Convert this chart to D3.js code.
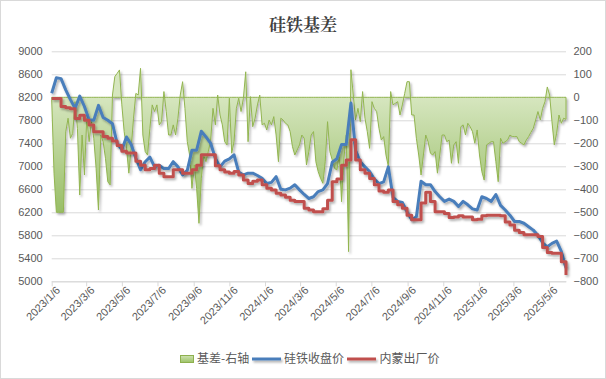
<!DOCTYPE html>
<html><head><meta charset="utf-8">
<script src="https://cdn.jsdelivr.net/npm/d3@7"></script>
<style>body{margin:0;background:#fff} svg{display:block}</style>
</head><body><svg id="c" width="606" height="379"></svg>
<script>
const chartTitle = "硅铁基差";
const startDate = "2023-01-06";
const endDate = "2025-06-04";
const basisStepDays = 4;
const priceStepDays = 8;
const seriesNames = ["基差-右轴", "硅铁收盘价", "内蒙出厂价"];
const xTickLabels = ["2023/1/6","2023/3/6","2023/5/6","2023/7/6","2023/9/6","2023/11/6","2024/1/6","2024/3/6","2024/5/6","2024/7/6","2024/9/6","2024/11/6","2025/1/6","2025/3/6","2025/5/6"];
const leftTicks = [5000,5400,5800,6200,6600,7000,7400,7800,8200,8600,9000];
const rightTicks = [-800,-700,-600,-500,-400,-300,-200,-100,0,100,200];

// 基差 (right axis), one reading every 4 days
const basisValues = [
-10,-330,-500,-500,-500,-500,-150,-91,-178,-157,
-19,-135,-425,-164,-338,-91,-193,-106,-178,-309,
-490,-164,-193,-265,-367,-381,10,90,104,119,
-33,-149,-222,-330,-222,-91,17,10,126,-164,
-236,-251,-135,-33,-62,-33,-120,-106,25,-62,
-164,-164,-120,-164,-91,10,68,-48,-193,-251,
-396,-294,-396,-548,-352,-251,-280,-236,-186,-48,
-120,10,-77,-120,-193,-207,-4,-243,-193,-48,
-4,-62,-4,111,-193,3,-128,-91,-33,10,
-120,-113,-142,-99,-120,-84,-164,-280,-91,-99,
-113,-120,-149,-215,-251,-229,-207,-164,-178,-294,
-236,-164,-149,-280,-323,-352,-374,-280,-106,-236,
-272,-309,-316,-251,-454,-265,-164,-671,120,10,
-99,-48,-106,25,-91,-149,-222,-19,-48,-62,
-135,-186,-171,-251,-300,25,-33,-26,-19,-77,
-33,17,68,68,-77,-77,-178,-251,-338,-251,
-164,-193,-243,-251,-236,-330,-251,-164,-164,-193,
-186,-287,-207,-193,-287,-128,-120,-164,-113,-128,
-149,-200,-142,-251,-323,-360,-207,-200,-193,-193,
-280,-367,-178,-200,-193,-186,-164,-171,-171,-171,
-193,-200,-207,-186,-171,-152,-135,-99,-62,-99,
-48,-19,45,10,-106,-207,-156,-77,-113,-91,
-96];

// 硅铁收盘价 (left axis), one reading every 8 days
const closeValues = [
8270,8540,8525,8330,8160,8010,8220,8040,7810,7800,
8060,7850,7800,7740,7400,7290,7510,7380,7140,6940,
7080,7160,6990,7020,6960,6960,7080,6990,6850,6930,
7280,7280,7610,7510,7400,7140,6990,7090,7130,7200,
6900,6850,6880,6880,6840,6790,6700,6720,6820,6600,
6590,6620,6680,6590,6510,6440,6470,6560,6590,6700,
7070,7130,7380,7380,8100,7280,7080,6990,6910,6780,
6700,6730,6990,6460,6390,6370,6210,6070,6120,6740,
6680,6680,6560,6470,6390,6430,6390,6300,6390,6330,
6260,6240,6470,6440,6390,6510,6320,6240,6150,6040,
6040,6010,5950,5890,5800,5670,5600,5660,5700,5520,
5230];

// 内蒙出厂价 (left axis), one reading every 8 days
const factoryValues = [
8180,8180,8040,8020,8000,7830,7890,7800,7720,7600,
7600,7520,7490,7440,7360,7260,7230,7230,7090,7020,
6940,6960,7020,6880,6820,6820,6940,6940,6880,6880,
6940,7020,7200,7200,7200,7010,6940,6900,6880,6910,
6850,6760,6700,6740,6760,6680,6620,6590,6530,6500,
6460,6410,6390,6390,6270,6240,6210,6210,6260,6410,
6730,6780,7020,7110,7460,7110,6940,6880,6790,6680,
6570,6550,6590,6390,6330,6270,6150,6070,6070,6360,
6550,6390,6210,6210,6180,6110,6120,6140,6120,6120,
6070,6080,6140,6150,6150,6150,6140,6030,5980,5890,
5850,5810,5810,5810,5780,5590,5500,5490,5490,5340,
5110];

const parseISO = d3.timeParse("%Y-%m-%d");
const parseTick = d3.timeParse("%Y/%-m/%-d");
const t0 = parseISO(startDate);
const basis = basisValues.map((v, i) => ({date: d3.timeDay.offset(t0, i * basisStepDays), v}));
const close = closeValues.map((v, i) => ({date: d3.timeDay.offset(t0, i * priceStepDays), v}));
const factory = factoryValues.map((v, i) => ({date: d3.timeDay.offset(t0, i * priceStepDays), v}));
const tickDates = xTickLabels.map(parseTick);

const svg = d3.select("#c");
const X0 = 51.7, X1 = 566, YT = 51.3, YB = 281.3;
const x = d3.scaleTime().domain([t0, parseISO(endDate)]).range([X0, X1]);
const yL = d3.scaleLinear().domain([5000, 9000]).range([YB, YT]);
const yR = d3.scaleLinear().domain([-800, 200]).range([YB, YT]);

const defs = svg.append("defs");
const grad = defs.append("linearGradient").attr("id", "gfill")
  .attr("gradientUnits", "userSpaceOnUse")
  .attr("x1", 0).attr("x2", 0).attr("y1", yR(0)).attr("y2", yR(-650));
grad.append("stop").attr("offset", 0).attr("stop-color", "#d6e6bf");
grad.append("stop").attr("offset", 1).attr("stop-color", "#86b24c");
const lg = defs.append("linearGradient").attr("id", "lgfill").attr("x1",0).attr("x2",0).attr("y1",0).attr("y2",1);
lg.append("stop").attr("offset", 0).attr("stop-color", "#cfe2b2");
lg.append("stop").attr("offset", 1).attr("stop-color", "#9cc266");
const f = defs.append("filter").attr("id", "sh").attr("filterUnits", "userSpaceOnUse")
  .attr("x", 0).attr("y", 0).attr("width", 606).attr("height", 379);
f.append("feDropShadow").attr("dx", 1.5).attr("dy", 2).attr("stdDeviation", 1.2)
  .attr("flood-color", "#000").attr("flood-opacity", 0.3);

svg.append("rect").attr("x", 0.5).attr("y", 0.5).attr("width", 605).attr("height", 378)
  .attr("fill", "#fff").attr("stroke", "#d9d9d9");

svg.append("text").attr("x", 303).attr("y", 31).attr("text-anchor", "middle")
  .attr("font-family", "'Noto Serif CJK SC', 'Noto Sans CJK SC', serif").attr("font-size", 17).attr("font-weight", "bold")
  .attr("fill", "#404040").text(chartTitle);

const axisFont = "'Liberation Sans', Arial, sans-serif";
const gL = svg.append("g").attr("transform", `translate(${X0},0)`)
  .call(d3.axisLeft(yL).tickValues(leftTicks).tickSize(-(X1 - X0)).tickPadding(9).tickFormat(d3.format("d")));
gL.select(".domain").remove();
gL.selectAll("line").attr("stroke", "#d9d9d9");
gL.selectAll("text").attr("fill", "#595959").attr("font-size", 11).attr("font-family", axisFont);

const gR = svg.append("g").attr("transform", `translate(${X1},0)`)
  .call(d3.axisRight(yR).tickValues(rightTicks).tickSize(0).tickPadding(7.5).tickFormat(d3.format("d")));
gR.select(".domain").remove();
gR.selectAll("text").attr("fill", "#595959").attr("font-size", 11).attr("font-family", axisFont);

const gX = svg.append("g").attr("transform", `translate(0,${YB})`)
  .call(d3.axisBottom(x).tickValues(tickDates).tickSize(5).tickSizeOuter(0).tickFormat((d, i) => xTickLabels[i]));
gX.select(".domain").attr("stroke", "#d9d9d9");
gX.selectAll("line").attr("stroke", "#d9d9d9");
gX.selectAll("text").attr("fill", "#595959").attr("font-size", 11).attr("font-family", axisFont)
  .attr("text-anchor", "end").attr("dy", "0.35em")
  .attr("transform", "translate(6,7) rotate(-45)").attr("y", 0).attr("x", 0);

const area = d3.area().x(d => x(d.date)).y0(yR(0)).y1(d => yR(d.v));
svg.append("path").datum(basis)
  .attr("d", area(basis) + "Z")
  .attr("fill", "url(#gfill)").attr("stroke", "#92b550").attr("stroke-width", 1)
  .attr("stroke-linejoin", "round").attr("filter", "url(#sh)");

const line = d3.line().x(d => x(d.date)).y(d => yL(d.v));
const stepLine = d3.line().x(d => x(d.date)).y(d => yL(d.v)).curve(d3.curveStepAfter);
svg.append("path").datum(close).attr("d", line).attr("fill", "none")
  .attr("stroke", "#4a7ebb").attr("stroke-width", 3).attr("stroke-linejoin", "round").attr("filter", "url(#sh)");
svg.append("path").datum(factory).attr("d", stepLine).attr("fill", "none")
  .attr("stroke", "#c0504d").attr("stroke-width", 3).attr("stroke-linejoin", "round").attr("filter", "url(#sh)");

const legFont = "'Noto Sans CJK SC', sans-serif";
const leg = svg.append("g");
leg.append("rect").attr("x", 180.5).attr("y", 355.5).attr("width", 13).attr("height", 7)
  .attr("fill", "url(#lgfill)").attr("stroke", "#8eb04e");
leg.append("text").attr("x", 197).attr("y", 363).text(seriesNames[0]);
leg.append("line").attr("x1", 252).attr("x2", 281).attr("y1", 359).attr("y2", 359)
  .attr("stroke", "#4a7ebb").attr("stroke-width", 3).attr("filter", "url(#sh)");
leg.append("text").attr("x", 284).attr("y", 363).text(seriesNames[1]);
leg.append("line").attr("x1", 347).attr("x2", 376).attr("y1", 359).attr("y2", 359)
  .attr("stroke", "#c0504d").attr("stroke-width", 3).attr("filter", "url(#sh)");
leg.append("text").attr("x", 379.5).attr("y", 363).text(seriesNames[2]);
leg.selectAll("text").attr("font-family", legFont).attr("font-size", 12).attr("fill", "#595959");
</script></body></html>
